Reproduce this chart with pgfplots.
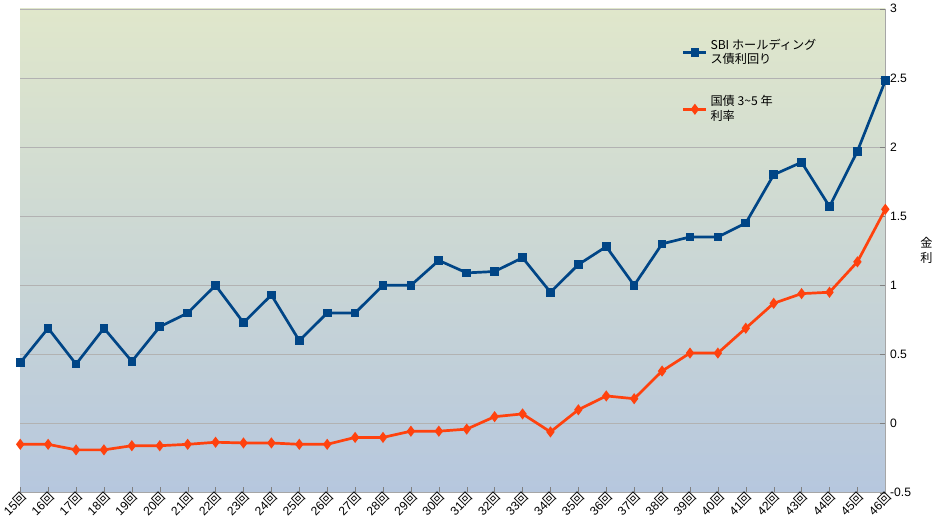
\documentclass[border=0pt]{standalone}
\usepackage{pgfplots}
\pgfplotsset{compat=1.18}
\usepackage{fontspec}
\setmainfont{Liberation Sans}
\newfontfamily\cjk{Noto Sans CJK JP}
\definecolor{sbi}{HTML}{004586}
\definecolor{jgb}{HTML}{FF420E}
\begin{document}
\begin{tikzpicture}
\begin{axis}[
  scale only axis, width=640pt, height=358pt,
  xmin=0, xmax=31, ymin=-0.5, ymax=3,
  ytick={-0.5,0,0.5,1,1.5,2,2.5,3},
  yticklabels={-0.5,0,0.5,1,1.5,2,2.5,3},
  axis y line*=right, axis x line*=bottom,
  y tick label style={font=\small},
  ymajorgrids, grid style={gray!60},
  xtick={0,...,31},
  xticklabel={\pgfmathparse{int(\tick+15)}\pgfmathresult{\cjk 回}},
  x tick label style={rotate=45, anchor=east, font=\small, inner sep=1pt, xshift=2pt, yshift=-3pt},
  major tick length=4pt,
  tick style={gray},
  axis line style={gray!70},
  ylabel={金\\利}, ylabel style={rotate=-90, align=center, font=\cjk\small},
  axis background/.style={shade, top color={rgb,255:red,224;green,231;blue,203}, bottom color={rgb,255:red,182;green,199;blue,222}},
  legend style={at={(0.76,0.95)}, anchor=north west, draw=none, fill=none, font=\cjk\small, row sep=18pt, cells={align=left}},
  legend cell align=left,
]
\addplot[sbi, line width=2pt, mark=square*, mark size=2.2pt] coordinates {
(0,0.44)(1,0.69)(2,0.43)(3,0.69)(4,0.45)(5,0.70)(6,0.80)(7,1.00)(8,0.73)(9,0.93)(10,0.60)(11,0.80)(12,0.80)(13,1.00)(14,1.00)(15,1.18)(16,1.09)(17,1.10)(18,1.20)(19,0.95)(20,1.15)(21,1.28)(22,1.00)(23,1.30)(24,1.35)(25,1.35)(26,1.45)(27,1.80)(28,1.89)(29,1.57)(30,1.97)(31,2.48)};
\addlegendentry{SBI ホールディング\\ス債利回り}
\addplot[jgb, line width=2pt, mark=diamond*, mark size=2.5pt] coordinates {
(0,-0.15)(1,-0.15)(2,-0.19)(3,-0.19)(4,-0.16)(5,-0.16)(6,-0.15)(7,-0.135)(8,-0.14)(9,-0.14)(10,-0.15)(11,-0.15)(12,-0.10)(13,-0.10)(14,-0.055)(15,-0.055)(16,-0.04)(17,0.05)(18,0.07)(19,-0.06)(20,0.10)(21,0.20)(22,0.18)(23,0.38)(24,0.51)(25,0.51)(26,0.69)(27,0.87)(28,0.94)(29,0.95)(30,1.17)(31,1.55)};
\addlegendentry{国債 3\textasciitilde5 年\\利率}
\end{axis}
\end{tikzpicture}
\end{document}
